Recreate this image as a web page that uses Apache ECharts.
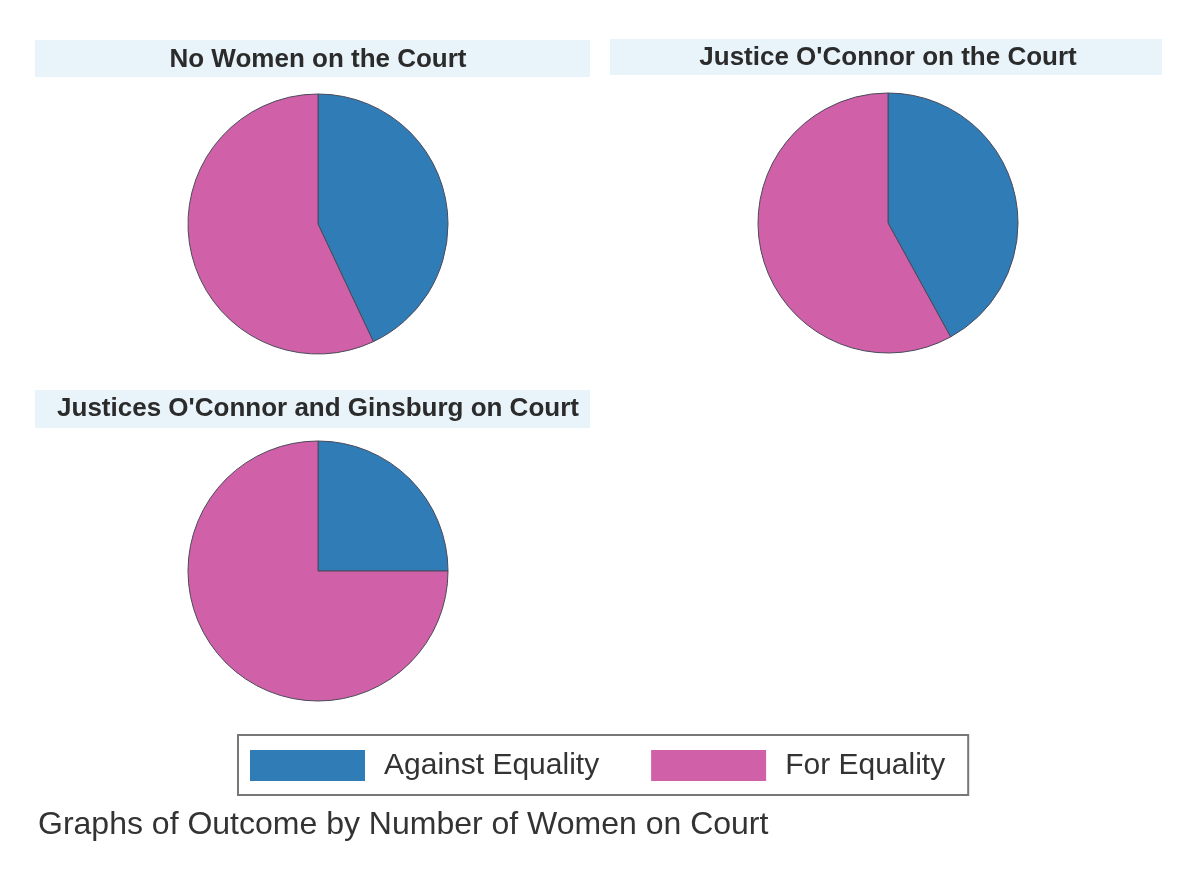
<!DOCTYPE html>
<html>
<head>
<meta charset="utf-8">
<script src="https://cdn.jsdelivr.net/npm/echarts@6/dist/echarts.min.js"></script>
<style>
html,body{margin:0;padding:0;background:#fff;}
#chart{width:1201px;height:877px;}
</style>
</head>
<body>
<div id="chart"></div>
<script>
const categories = ['Against Equality', 'For Equality'];
const panelTitles = ['No Women on the Court', "Justice O'Connor on the Court", "Justices O'Connor and Ginsburg on Court"];
const noWomen = [43, 57];
const oconnor = [42, 58];
const oconnorGinsburg = [25, 75];
const noteText = 'Graphs of Outcome by Number of Women on Court';

const colors = ['#2f7cb7', '#d061a8'];
const panels = [
  { data: noWomen, center: [318, 224], band: [35, 40, 555, 37], titleY: 60 },
  { data: oconnor, center: [888, 223], band: [610, 39, 552, 36], titleY: 58 },
  { data: oconnorGinsburg, center: [318, 571], band: [35, 390, 555, 38], titleY: 409 }
];
const allData = [noWomen, oconnor, oconnorGinsburg];

const chart = echarts.init(document.getElementById('chart'), null, { renderer: 'canvas' });
const fontFamily = '"Liberation Sans", Arial, Helvetica, sans-serif';

const option = {
  backgroundColor: '#ffffff',
  animation: false,
  color: colors,
  graphic: panels.map(p => ({
    type: 'rect',
    z: -1,
    shape: { x: p.band[0], y: p.band[1], width: p.band[2], height: p.band[3] },
    style: { fill: '#e8f4fa' }
  })),
  title: panels.map((p, i) => ({
    text: panelTitles[i],
    left: p.center[0],
    top: p.titleY,
    textAlign: 'center',
    textVerticalAlign: 'middle',
    padding: 0,
    textStyle: { fontFamily, fontSize: 26, fontWeight: 'bold', color: '#2b2b2b' }
  })).concat([{
    text: noteText,
    left: 38,
    top: 809,
    padding: 0,
    textStyle: { fontFamily, fontSize: 32, fontWeight: 'normal', color: '#333333' }
  }]),
  legend: {
    data: categories,
    left: 238,
    top: 735,
    orient: 'horizontal',
    padding: [15, 23, 14, 12],
    itemWidth: 115,
    itemHeight: 31,
    itemGap: 52,
    icon: 'rect',
    itemStyle: { borderWidth: 0 },
    borderColor: '#777777',
    borderWidth: 2,
    textStyle: { fontFamily, fontSize: 30, color: '#333333', padding: [0, 0, 0, 14] },
    selectedMode: false
  },
  series: panels.map((p, i) => ({
    type: 'pie',
    center: p.center,
    radius: 130,
    startAngle: 90,
    clockwise: true,
    label: { show: false },
    labelLine: { show: false },
    emphasis: { disabled: true },
    itemStyle: { borderColor: '#4a4a5a', borderWidth: 1 },
    data: categories.map((c, j) => ({ name: c, value: allData[i][j] }))
  }))
};
chart.setOption(option);
</script>
</body>
</html>
